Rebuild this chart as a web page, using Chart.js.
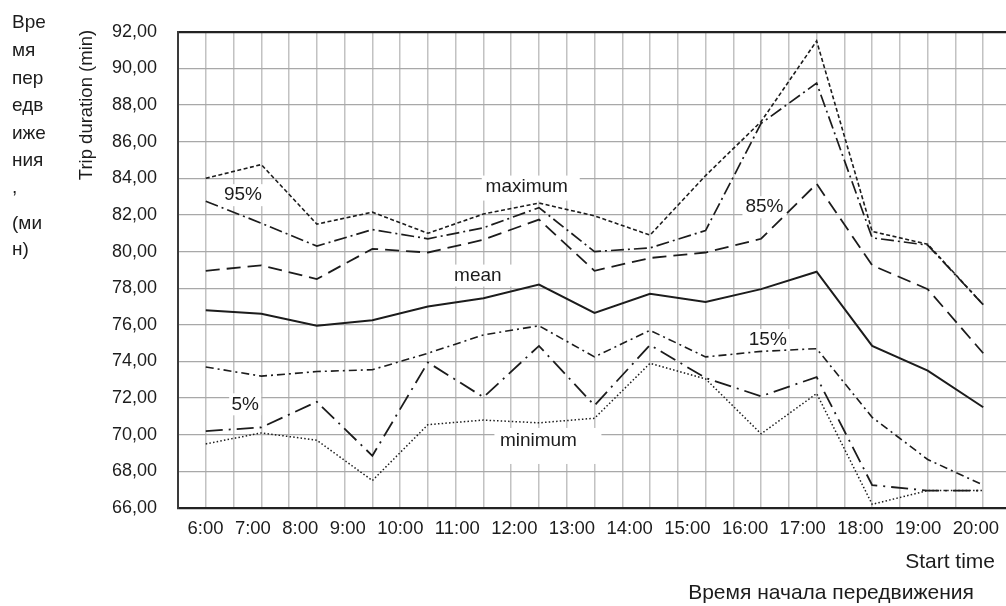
<!DOCTYPE html>
<html>
<head>
<meta charset="utf-8">
<script src="https://cdn.jsdelivr.net/npm/chart.js@4.4.1/dist/chart.umd.min.js"></script>
<style>
  html, body { margin: 0; padding: 0; background: #fff; overflow: hidden; }
  #wrap { position: relative; width: 1020px; height: 606px; }
</style>
</head>
<body>
<div id="wrap"><canvas id="c" width="1020" height="606"></canvas></div>
<script>
// Start hours of the trips
const categories = ['6:00', '7:00', '8:00', '9:00', '10:00', '11:00', '12:00', '13:00',
                    '14:00', '15:00', '16:00', '17:00', '18:00', '19:00', '20:00'];

// Trip duration statistics, minutes
const maximum = [84.0, 84.75, 81.5, 82.15, 81.0, 82.05, 82.65, 81.95, 80.9, 84.15, 87.1, 91.5, 81.1, 80.4, 77.1];
const p95     = [82.75, 81.55, 80.3, 81.2, 80.7, 81.3, 82.4, 80.0, 80.2, 81.15, 87.0, 89.2, 80.75, 80.35, 77.1];
const p85     = [78.95, 79.25, 78.5, 80.15, 79.95, 80.65, 81.75, 78.95, 79.65, 79.95, 80.7, 83.7, 79.25, 77.95, 74.45];
const mean    = [76.8, 76.6, 75.95, 76.25, 77.0, 77.45, 78.2, 76.65, 77.7, 77.25, 77.95, 78.9, 74.85, 73.5, 71.5];
const p15     = [73.7, 73.2, 73.45, 73.55, 74.45, 75.45, 75.95, 74.25, 75.7, 74.25, 74.55, 74.7, 70.95, 68.65, 67.25];
const p5      = [70.2, 70.4, 71.8, 68.85, 73.95, 72.05, 74.85, 71.6, 74.9, 73.1, 72.1, 73.15, 67.25, 66.95, 66.95];
const minimum = [69.5, 70.1, 69.7, 67.5, 70.55, 70.8, 70.65, 70.9, 73.9, 73.05, 70.05, 72.25, 66.2, 66.95, 66.95];

// Value axis range
const yMin = 66, yMax = 92, yStep = 2;

const FONT = '"Liberation Sans", Arial, Helvetica, sans-serif';
const INK = '#1c1c1c';

// Category labels are set as a text row under the plot
const X_TICK_SIZE = 18.5;
const ROW_START = 9.5;   // px after the plot's left edge
const ROW_GAP = 11.4;    // px between neighbouring labels

const toPoints = arr => arr.map((v, i) => ({ x: i, y: v }));

const lineSet = (label, values, dash, width) => ({
  label,
  data: toPoints(values),
  borderColor: INK,
  borderWidth: width,
  borderDash: dash,
  borderCapStyle: 'butt',
  borderJoinStyle: 'miter',
  pointRadius: 0,
  tension: 0,
  fill: false
});

// Labels written inside the plot, in axis units, with a white backing
const plotLabels = [
  { text: '95%',     x: 0.67, y: 83.08, box: [22, 22, 11, 11] },
  { text: 'maximum', x: 5.78, y: 83.55, box: [45, 53, 11, 14] },
  { text: '85%',     x: 10.06, y: 82.42, box: [22, 22, 11, 11] },
  { text: 'mean',    x: 4.90, y: 78.69, box: [30, 42, 11, 11] },
  { text: '15%',     x: 10.12, y: 75.17, box: [22, 22, 11, 11] },
  { text: '5%',      x: 0.71, y: 71.66, box: [16, 16, 11, 11] },
  { text: 'minimum', x: 5.99, y: 69.66, box: [44, 63, 13, 23] }
];

const sideTitleLines = ['Вре', 'мя', 'пер', 'едв', 'иже', 'ния', ',', '(ми', 'н)'];
const sideTitleRows  = [23, 51, 79, 106, 134, 161, 188, 224, 250];

const plotLabelPlugin = {
  id: 'plotLabels',
  beforeDatasetsDraw(chart) {
    const { ctx, scales: { x, y } } = chart;
    ctx.save();
    ctx.font = `19px ${FONT}`;
    ctx.textAlign = 'center';
    ctx.textBaseline = 'middle';
    plotLabels.forEach(l => {
      const px = x.getPixelForValue(l.x);
      const py = y.getPixelForValue(l.y);
      const [bl, br, bt, bb] = l.box;
      ctx.fillStyle = '#ffffff';
      ctx.fillRect(px - bl, py - bt, bl + br, bt + bb);
      ctx.fillStyle = INK;
      ctx.fillText(l.text, px, py);
    });
    ctx.restore();
  }
};

const titlesPlugin = {
  id: 'titles',
  afterDraw(chart) {
    const { ctx } = chart;
    ctx.save();
    ctx.fillStyle = INK;
    ctx.textBaseline = 'middle';

    // Russian axis caption, wrapped in a narrow column
    ctx.font = `19px ${FONT}`;
    ctx.textAlign = 'left';
    sideTitleLines.forEach((t, i) => ctx.fillText(t, 12, sideTitleRows[i]));

    // English axis caption, rotated
    ctx.save();
    ctx.translate(87, 105);
    ctx.rotate(-Math.PI / 2);
    ctx.font = `18.5px ${FONT}`;
    ctx.textAlign = 'center';
    ctx.fillText('Trip duration (min)', 0, 0);
    ctx.restore();

    // Horizontal axis captions
    ctx.font = `21px ${FONT}`;
    ctx.textAlign = 'right';
    ctx.fillText('Start time', 995, 562);
    ctx.textAlign = 'center';
    ctx.fillText('Время начала передвижения', 831, 593);
    ctx.restore();
  }
};

new Chart(document.getElementById('c'), {
  type: 'line',
  data: {
    datasets: [
      lineSet('maximum', maximum, [4, 2.5], 1.6),
      lineSet('95%', p95, [13, 4, 2, 4], 1.7),
      lineSet('85%', p85, [14, 7], 1.8),
      lineSet('mean', mean, [], 2),
      lineSet('15%', p15, [8, 4, 2, 4], 1.6),
      lineSet('5%', p5, [17, 6, 2, 6], 1.8),
      lineSet('minimum', minimum, [1.5, 2.2], 1.5)
    ]
  },
  options: {
    responsive: false,
    devicePixelRatio: 1,
    animation: false,
    layout: { padding: { top: 27, right: 9, bottom: 0, left: 0 } },
    plugins: {
      legend: { display: false },
      tooltip: { enabled: false },
      title: { display: false }
    },
    scales: {
      x: {
        type: 'linear',
        position: 'bottom',
        min: -0.5,
        max: categories.length - 0.5,
        ticks: { display: false, stepSize: 0.5 },
        grid: { color: '#c2c2c2', lineWidth: 1.5, drawTicks: false },
        border: { display: false },
        afterFit: s => { s.height = 0; }
      },
      xRow: {
        type: 'linear',
        position: 'bottom',
        min: 0,
        max: 1,
        afterBuildTicks(scale) {
          const ctx = scale.ctx;
          ctx.save();
          ctx.font = `${X_TICK_SIZE}px ${FONT}`;
          const widths = categories.map(c => ctx.measureText(c).width);
          ctx.restore();
          const span = scale.width || 1;
          let cursor = ROW_START;
          scale.ticks = widths.map(w => {
            const centre = cursor + w / 2;
            cursor += w + ROW_GAP;
            return { value: centre / span };
          });
        },
        ticks: {
          autoSkip: false,
          maxRotation: 0,
          minRotation: 0,
          padding: 10,
          color: INK,
          font: { family: FONT, size: X_TICK_SIZE },
          callback: (v, i) => categories[i]
        },
        grid: { display: false, drawTicks: false },
        border: { display: false },
        afterFit: s => { s.height = 98; }
      },
      y: {
        type: 'linear',
        min: yMin,
        max: yMax,
        ticks: {
          stepSize: yStep,
          padding: 21,
          color: INK,
          font: { family: FONT, size: 18 },
          callback: v => v.toFixed(2).replace('.', ',')
        },
        grid: {
          drawTicks: false,
          color: c => (c.tick && (c.tick.value === yMax || c.tick.value === yMin)) ? '#222222' : '#a8a8a8',
          lineWidth: c => (c.tick && (c.tick.value === yMax || c.tick.value === yMin)) ? 2.2 : 1.3
        },
        border: { display: true, color: '#3a3a3a', width: 2 },
        afterFit: s => { s.width = 178; }
      }
    }
  },
  plugins: [plotLabelPlugin, titlesPlugin]
});
</script>
</body>
</html>
